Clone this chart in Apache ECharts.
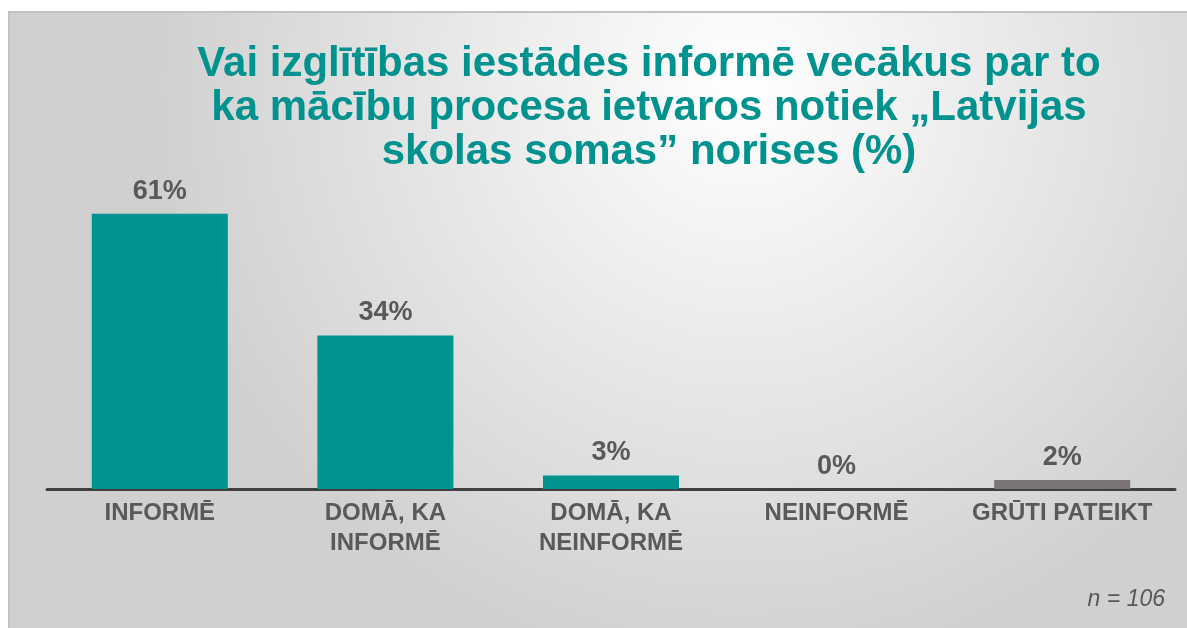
<!DOCTYPE html>
<html>
<head>
<meta charset="utf-8">
<script src="https://cdn.jsdelivr.net/npm/echarts@6/dist/echarts.min.js"></script>
<style>
html,body{margin:0;padding:0;background:#fff;}
#main{width:1187px;height:628px;}
</style>
</head>
<body>
<div id="main"></div>
<script>
var myChart = echarts.init(document.getElementById('main'));

// dati
var categories = ['INFORMĒ', 'DOMĀ, KA\nINFORMĒ', 'DOMĀ, KA\nNEINFORMĒ', 'NEINFORMĒ', 'GRŪTI PATEIKT'];
var values = [61, 34, 3, 0, 2];
var barColors = ['#009490', '#009490', '#009490', '#009490', '#7a7474'];
var titleText = 'Vai izglītības iestādes informē vecākus par to\nka mācību procesa ietvaros notiek „Latvijas\nskolas somas” norises (%)';
var noteText = 'n = 106';

var seriesData = values.map(function (v, i) {
    return { value: v, itemStyle: { color: barColors[i] } };
});

var option = {
    textStyle: { fontFamily: 'Liberation Sans, Arial, sans-serif' },
    animation: false,
    graphic: [
        {
            type: 'rect',
            z: -10,
            shape: { x: 9, y: 12, width: 1180, height: 620 },
            style: {
                fill: {
                    type: 'radial', x: 0.62, y: 0.12, r: 0.95,
                    colorStops: [
                        { offset: 0, color: '#ffffff' },
                        { offset: 1, color: '#d0d0d0' }
                    ]
                }
            }
        },
        {
            type: 'polyline',
            z: -9,
            shape: { points: [[9, 640], [9, 12], [1187, 12]] },
            style: { stroke: '#c2c2c2', lineWidth: 2, fill: null }
        },
        {
            type: 'text',
            right: 22,
            top: 588,
            style: {
                text: noteText,
                fontSize: 23,
                fontStyle: 'italic',
                fill: '#595959',
                fontFamily: 'Liberation Sans, Arial, sans-serif'
            }
        }
    ],
    title: {
        text: titleText,
        left: 644,
        textAlign: 'center',
        top: 37,
        textStyle: {
            color: '#00928e',
            fontSize: 42,
            fontWeight: 'bold',
            lineHeight: 44
        }
    },
    grid: {
        left: 47,
        right: 12,
        top: 173,
        bottom: 139,
        containLabel: false
    },
    xAxis: {
        type: 'category',
        data: categories,
        axisLine: { lineStyle: { color: '#404040', width: 3 } },
        axisTick: { show: false },
        axisLabel: {
            color: '#595959',
            fontSize: 24,
            fontWeight: 'bold',
            lineHeight: 30,
            margin: 9,
            interval: 0
        }
    },
    yAxis: {
        type: 'value',
        min: 0,
        max: 70,
        show: false,
        splitLine: { show: false }
    },
    series: [
        {
            type: 'bar',
            data: seriesData,
            barWidth: 136,
            label: {
                show: true,
                position: 'top',
                distance: 9,
                formatter: '{c}%',
                color: '#595959',
                fontSize: 27,
                fontWeight: 'bold'
            }
        }
    ]
};

myChart.setOption(option);
</script>
</body>
</html>
